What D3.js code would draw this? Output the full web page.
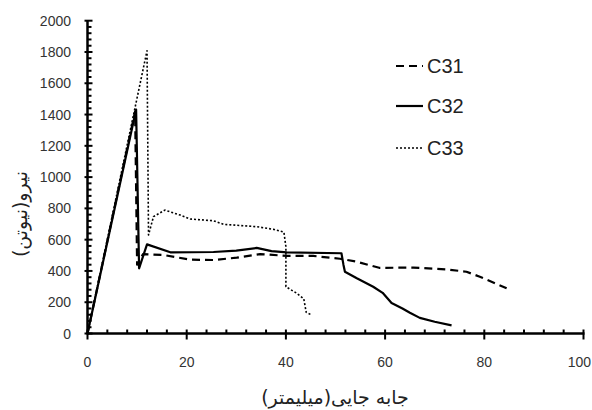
<!DOCTYPE html>
<html><head><meta charset="utf-8">
<script src="https://cdn.jsdelivr.net/npm/d3@7"></script>
<style>body{margin:0;background:#fff}svg{display:block}</style>
</head><body><svg id="c" width="592" height="410"></svg>
<script>
const seriesNames = ["C31", "C32", "C33"];
const c31 = [[0,0],[9.6,1420],[10.0,440],[11.2,508],[15.3,502],[20.7,472],[25.4,470],[30.1,485],[34.8,508],[40.2,496],[45.5,496],[50.9,478],[54.3,459],[58.8,420],[65.7,421],[72.4,410],[76.4,395],[79.1,363],[84.5,289]];
const c32 = [[0,0],[9.8,1432],[10.4,417],[12.0,570],[16.7,519],[25.4,521],[30,530],[34.1,547],[37.1,527],[40.2,519],[51.2,513],[51.6,440],[51.9,395],[54.3,353],[57.6,299],[59.5,260],[61.3,195],[63.5,160],[65.0,133],[67.0,100],[70,75],[73.4,52]];
const c33 = [[0,0],[12.0,1808],[12.3,630],[13.3,747],[15.6,789],[18.7,757],[20.7,732],[25.4,721],[27.4,698],[34.1,683],[37.5,666],[39.6,648],[40.0,555],[40.0,299],[42.2,257],[43.6,222],[44.1,135],[45.2,118]];
const xTicks = [0,20,40,60,80,100];
const yTicks = [0,200,400,600,800,1000,1200,1400,1600,1800,2000];
const xTitle = "جابه جایی(میلیمتر)";
const yTitle = "نیرو(نیوتن)";

const svg = d3.select("#c");
const x = d3.scaleLinear().domain([0,100]).range([87.5,583.5]);
const y = d3.scaleLinear().domain([0,2000]).range([333.5,20.7]);
const tickFont = "Liberation Sans, Arial, sans-serif";

// minor ticks
const xMinor = d3.range(0,100.01,4).filter(v=>v%20!==0);
const yMinor = d3.range(0,2000.01,40).filter(v=>v%200!==0);
svg.append("g").selectAll("line").data(xMinor).join("line")
  .attr("x1",d=>x(d)).attr("x2",d=>x(d)).attr("y1",y(0)).attr("y2",y(0)-4)
  .attr("stroke","#000").attr("stroke-width",2);
svg.append("g").selectAll("line").data(yMinor).join("line")
  .attr("x1",x(0)).attr("x2",x(0)+4).attr("y1",d=>y(d)).attr("y2",d=>y(d))
  .attr("stroke","#000").attr("stroke-width",2);

// major ticks
svg.append("g").selectAll("line").data(xTicks).join("line")
  .attr("x1",d=>x(d)).attr("x2",d=>x(d)).attr("y1",y(0)-4).attr("y2",y(0)+6)
  .attr("stroke","#000").attr("stroke-width",2);
svg.append("g").selectAll("line").data(yTicks).join("line")
  .attr("x1",x(0)-3).attr("x2",x(0)+5).attr("y1",d=>y(d)).attr("y2",d=>y(d))
  .attr("stroke","#000").attr("stroke-width",2);

// axis lines
svg.append("line").attr("x1",x(0)).attr("x2",x(100)+1).attr("y1",y(0)).attr("y2",y(0)).attr("stroke","#000").attr("stroke-width",2.5);
svg.append("line").attr("x1",x(0)).attr("x2",x(0)).attr("y1",y(0)+1).attr("y2",y(2000)).attr("stroke","#000").attr("stroke-width",2.5);

// tick labels
svg.append("g").selectAll("text").data(xTicks).join("text")
  .attr("x",d=>d===100 ? 591 : x(d)).attr("y",367)
  .attr("text-anchor",d=>d===100 ? "end" : "middle")
  .attr("font-family",tickFont).attr("font-size",14).attr("fill","#333").text(d=>d);
svg.append("g").selectAll("text").data(yTicks).join("text")
  .attr("x",71).attr("y",d=>y(d)+5).attr("text-anchor","end")
  .attr("font-family",tickFont).attr("font-size",14).attr("fill","#333").text(d=>d);

// titles
svg.append("text").attr("x",335).attr("y",404).attr("text-anchor","middle")
  .attr("font-family","DejaVu Sans, sans-serif").attr("font-size",19).attr("fill","#222")
  .attr("direction","rtl").text(xTitle);
svg.append("text").attr("transform","translate(27,214) rotate(-90)").attr("text-anchor","middle")
  .attr("font-family","DejaVu Sans, sans-serif").attr("font-size",19).attr("fill","#222")
  .attr("direction","rtl").text(yTitle);

// lines
const line = d3.line().x(d=>x(d[0])).y(d=>y(d[1]));
const styles = [
  {data:c31, w:2.2, dash:"8,5"},
  {data:c32, w:2.2, dash:null},
  {data:c33, w:1.6, dash:"2,2"}
];
styles.forEach(s=>{
  svg.append("path").datum(s.data).attr("d",line).attr("fill","none")
    .attr("stroke","#000").attr("stroke-width",s.w).attr("stroke-dasharray",s.dash)
    .attr("stroke-linejoin","round");
});

// legend
const legY = [66,106,148];
styles.forEach((s,i)=>{
  svg.append("line").attr("x1",396).attr("x2",423).attr("y1",legY[i]).attr("y2",legY[i])
    .attr("stroke","#000").attr("stroke-width",s.w).attr("stroke-dasharray",s.dash);
  svg.append("text").attr("x",427).attr("y",legY[i]+7).attr("font-family",tickFont)
    .attr("font-size",20).attr("fill","#222").text(seriesNames[i]);
});
</script></body></html>
